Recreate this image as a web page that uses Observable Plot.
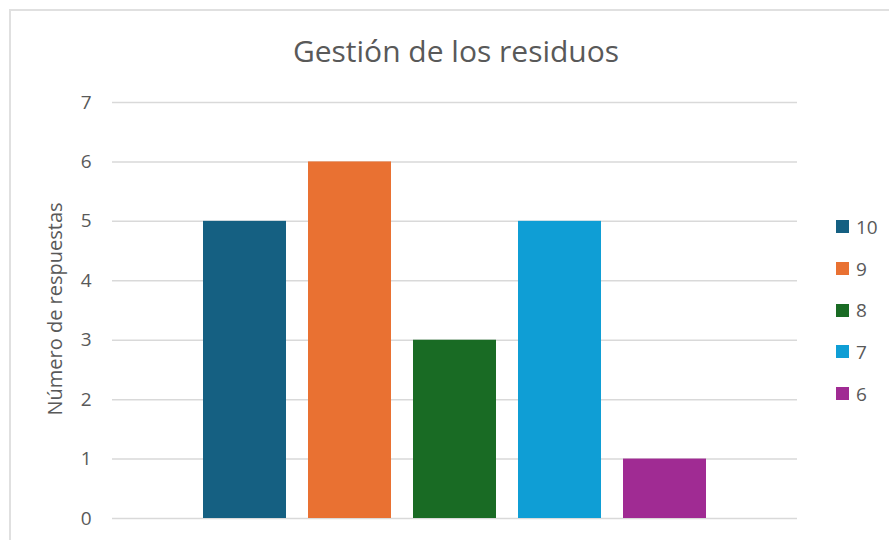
<!DOCTYPE html>
<html>
<head>
<meta charset="utf-8">
<script src="https://cdn.jsdelivr.net/npm/d3@7"></script>
<script src="https://cdn.jsdelivr.net/npm/@observablehq/plot@0.6"></script>
<style>
  html, body { margin: 0; padding: 0; background: #ffffff; }
  #wrap { position: relative; width: 889px; height: 540px; overflow: hidden; background: #fff; font-family: "Open Sans", sans-serif; }
  #frame { position: absolute; left: 9px; top: 9px; width: 900px; height: 600px; border-top: 2px solid #e0e0e0; border-left: 2px solid #e0e0e0; box-sizing: border-box; }
  #title { position: absolute; left: 0; width: 912px; top: 31px; text-align: center; font-size: 30px; color: #595959; line-height: 40px; }
  #ylabel { position: absolute; left: 55px; top: 309px; transform: translate(-50%, -50%) rotate(-90deg); white-space: nowrap; font-size: 20px; color: #595959; line-height: 24px; }
  #legend { position: absolute; left: 836px; top: 206px; }
  .item { height: 41.7px; display: flex; align-items: center; font-size: 19px; color: #595959; }
  .sw { width: 13px; height: 13px; margin-right: 7px; }
  #chart { position: absolute; left: 0; top: 0; }
</style>
</head>
<body>
<div id="wrap">
  <div id="frame"></div>
  <div id="chart"></div>
  <div id="title"></div>
  <div id="ylabel"></div>
  <div id="legend"></div>
</div>
<script>
const title = "Gestión de los residuos";
const yLabel = "Número de respuestas";
const series = ["10", "9", "8", "7", "6"];
const values = [5, 6, 3, 5, 1];
const colors = ["#156082", "#E97132", "#196B24", "#0F9ED5", "#A02B93"];
const yTicks = [0, 1, 2, 3, 4, 5, 6, 7];

const data = series.map((s, i) => ({serie: s, value: values[i]}));

document.getElementById("title").textContent = title;
document.getElementById("ylabel").textContent = yLabel;

const chart = Plot.plot({
  width: 889,
  height: 540,
  marginLeft: 112,
  marginRight: 92,
  marginTop: 102,
  marginBottom: 22,
  style: {fontFamily: "'Open Sans', sans-serif", fontSize: "19px", color: "#595959", background: "transparent"},
  x: {domain: series, paddingInner: 0.213, paddingOuter: 0.853, axis: null},
  y: {domain: [0, 7]},
  color: {domain: series, range: colors},
  marks: [
    Plot.gridY(yTicks, {stroke: "#d9d9d9", strokeOpacity: 1, strokeWidth: 1.5}),
    Plot.axisY(yTicks, {tickSize: 0, tickPadding: 21, tickFormat: d3.format("d"), label: null, fill: "#595959", fontSize: 19}),
    Plot.barY(data, {x: "serie", y: "value", fill: "serie"})
  ]
});
document.getElementById("chart").appendChild(chart);

const leg = document.getElementById("legend");
series.forEach((s, i) => {
  const it = document.createElement("div");
  it.className = "item";
  const sw = document.createElement("div");
  sw.className = "sw";
  sw.style.background = colors[i];
  const t = document.createElement("span");
  t.textContent = s;
  it.appendChild(sw);
  it.appendChild(t);
  leg.appendChild(it);
});
</script>
</body>
</html>
